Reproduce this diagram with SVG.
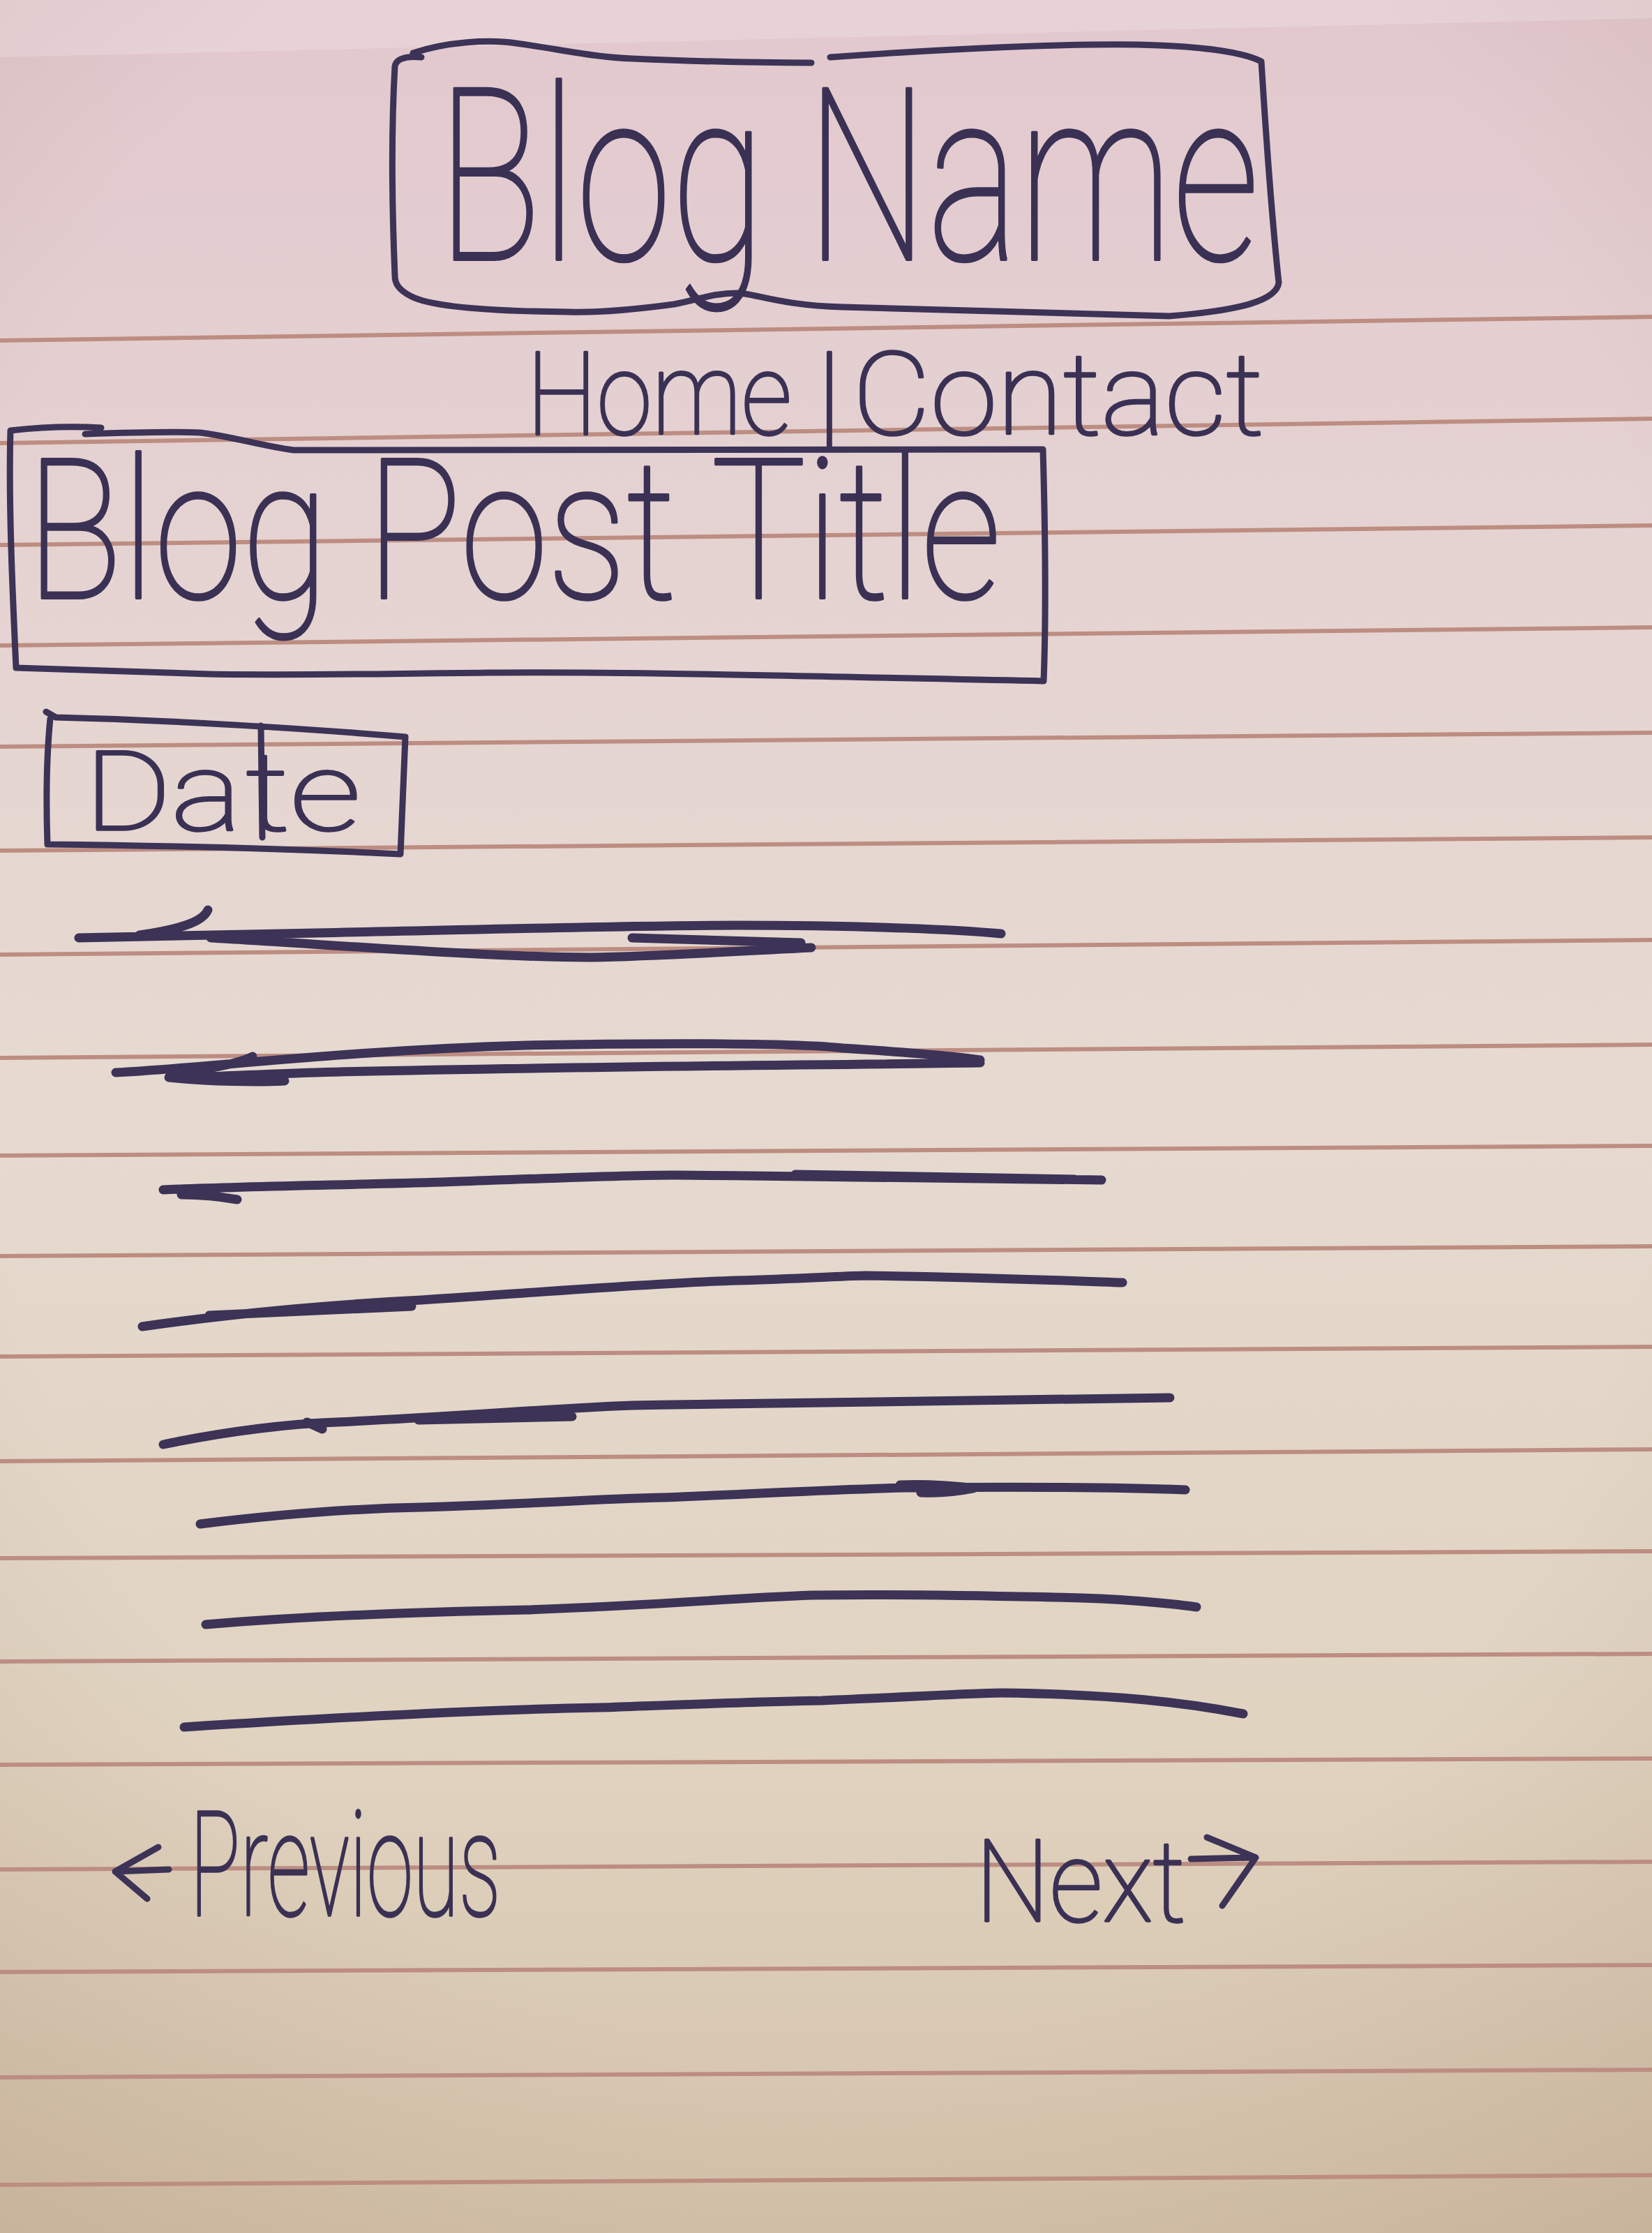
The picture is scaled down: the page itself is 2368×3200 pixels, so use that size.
<svg xmlns="http://www.w3.org/2000/svg" width="2368" height="3200" viewBox="0 0 2368 3200">
  <defs>
    <linearGradient id="paper" x1="0" y1="0" x2="0" y2="1">
      <stop offset="0" stop-color="#e2c8ce"/>
      <stop offset="0.25" stop-color="#e5d3d2"/>
      <stop offset="0.5" stop-color="#e6dad0"/>
      <stop offset="0.78" stop-color="#e0d3c0"/>
      <stop offset="1" stop-color="#d4c2aa"/>
    </linearGradient>
    <radialGradient id="shade" cx="0.5" cy="0.4" r="0.8">
      <stop offset="0.65" stop-color="#9a7a62" stop-opacity="0"/>
      <stop offset="1" stop-color="#9a7a62" stop-opacity="0.22"/>
    </radialGradient>
    <style>
      .rule { stroke: #bd8d82; stroke-width: 6; fill: none; }
      .ink { stroke: #3c3356; fill: none; stroke-linecap: round; stroke-linejoin: round; }
      .box { stroke-width: 9; }
      .scribble { stroke-width: 13; }
      .hand { fill: #3a3154; stroke: #3a3154; stroke-linejoin: round; font-family: "Roboto", "Liberation Sans", sans-serif; font-weight: 100; }
    </style>
  </defs>

  <!-- paper -->
  <rect x="0" y="0" width="2368" height="3200" fill="url(#paper)"/>
  <rect x="0" y="0" width="2368" height="3200" fill="url(#shade)"/>
  <polygon points="0,0 2368,0 2368,26 0,82" fill="#ffffff" opacity="0.18"/>

  <!-- ruled lines -->
  <g id="ruled-lines" class="rule">
    <line x1="0" y1="488" x2="2368" y2="454"/>
    <line x1="0" y1="635" x2="2368" y2="600"/>
    <line x1="0" y1="781" x2="2368" y2="753"/>
    <line x1="0" y1="925" x2="2368" y2="899"/>
    <line x1="0" y1="1070" x2="2368" y2="1050"/>
    <line x1="0" y1="1219" x2="2368" y2="1200"/>
    <line x1="0" y1="1368" x2="2368" y2="1347"/>
    <line x1="0" y1="1516" x2="2368" y2="1497"/>
    <line x1="0" y1="1656" x2="2368" y2="1642"/>
    <line x1="0" y1="1800" x2="2368" y2="1786"/>
    <line x1="0" y1="1944" x2="2368" y2="1930"/>
    <line x1="0" y1="2094" x2="2368" y2="2077"/>
    <line x1="0" y1="2233" x2="2368" y2="2223"/>
    <line x1="0" y1="2381" x2="2368" y2="2370"/>
    <line x1="0" y1="2529" x2="2368" y2="2520"/>
    <line x1="0" y1="2679" x2="2368" y2="2668"/>
    <line x1="0" y1="2826" x2="2368" y2="2816"/>
    <line x1="0" y1="2977" x2="2368" y2="2966"/>
    <line x1="0" y1="3131" x2="2368" y2="3117"/>
  </g>

  <!-- header: blog name -->
  <g id="blog-name">
    <path class="ink box" d="M 592 76 C 640 60, 700 56, 740 62 C 800 70, 850 82, 906 84 C 1000 88, 1100 90, 1163 90 M 1190 82 C 1300 74, 1500 62, 1631 64 C 1720 66, 1780 74, 1808 88 C 1815 200, 1825 330, 1833 405 C 1830 430, 1780 445, 1676 453 C 1500 448, 1300 442, 1208 440 C 1120 438, 1080 420, 1057 420 C 1020 420, 1000 430, 966 436 C 900 445, 850 448, 815 447 C 700 446, 620 440, 590 425 C 570 415, 566 405, 566 395 C 562 300, 560 200, 566 95 C 568 85, 580 80, 604 82"/>
    <text class="hand" x="627" y="372" font-size="345" stroke-width="4" textLength="1178" lengthAdjust="spacingAndGlyphs">Blog Name</text>
  </g>

  <!-- navigation -->
  <g id="nav">
    <text class="hand" y="622" font-size="166" stroke-width="3.5"><tspan x="755" textLength="380" lengthAdjust="spacingAndGlyphs">Home</tspan><tspan x="1172">|</tspan><tspan x="1222" textLength="590" lengthAdjust="spacingAndGlyphs">Contact</tspan></text>
  </g>

  <!-- post title -->
  <g id="post-title">
    <path class="ink box" d="M 15 617 C 60 612, 110 611, 145 613 M 122 622 C 180 620, 240 618, 287 620 C 330 625, 380 640, 421 645 C 700 645, 1100 644, 1495 644 C 1498 750, 1500 870, 1496 976 C 1200 970, 900 962, 700 964 C 500 966, 420 968, 300 966 C 150 962, 60 958, 23 957 C 18 850, 12 720, 15 617"/>
    <text class="hand" x="38" y="857" font-size="280" stroke-width="4" textLength="1397" lengthAdjust="spacingAndGlyphs">Blog Post Title</text>
  </g>

  <!-- date -->
  <g id="date">
    <path class="ink box" d="M 66 1020 L 80 1028 C 250 1032, 450 1045, 581 1056 C 578 1120, 576 1180, 574 1224 C 450 1218, 250 1212, 68 1210 C 66 1150, 67 1080, 72 1030 M 374 1040 L 376 1200"/>
    <text class="hand" y="1189" font-size="158" stroke-width="3.5"><tspan x="121" textLength="225" lengthAdjust="spacingAndGlyphs">Da</tspan><tspan x="352" textLength="165" lengthAdjust="spacingAndGlyphs">te</tspan></text>
  </g>

  <!-- body copy placeholder strokes -->
  <g id="body-lines" class="ink scribble">
    <path d="M 113 1344 C 200 1342, 300 1340, 453 1337 C 700 1332, 900 1326, 1057 1326 C 1250 1326, 1380 1333, 1435 1338 M 302 1344 C 450 1352, 700 1372, 846 1372 C 950 1370, 1080 1362, 1163 1358 M 906 1344 L 1148 1351 M 298 1304 C 292 1318, 270 1330, 200 1340"/>
    <path d="M 166 1537 C 300 1530, 500 1505, 755 1498 C 950 1494, 1150 1495, 1208 1502 C 1300 1508, 1380 1515, 1405 1519 M 1405 1523 C 1100 1527, 700 1530, 453 1537 C 350 1540, 280 1545, 242 1544 C 300 1550, 370 1551, 408 1549 M 362 1514 C 340 1525, 300 1532, 250 1538"/>
    <path d="M 234 1705 C 350 1700, 500 1698, 634 1694 C 800 1688, 900 1684, 967 1684 C 1200 1686, 1450 1690, 1579 1691 M 1140 1683 L 1540 1690 M 260 1712 Q 300 1712 340 1719"/>
    <path d="M 204 1901 C 350 1880, 500 1868, 604 1863 C 800 1850, 950 1838, 1057 1835 C 1150 1832, 1200 1829, 1239 1828 C 1400 1830, 1550 1836, 1609 1838 M 300 1885 L 590 1872"/>
    <path d="M 234 2070 C 330 2050, 420 2040, 483 2038 C 650 2030, 800 2018, 906 2014 C 1200 2008, 1500 2004, 1677 2003 M 600 2035 L 820 2030 M 440 2038 L 462 2048"/>
    <path d="M 287 2184 C 400 2170, 500 2162, 604 2160 C 750 2156, 850 2148, 952 2146 C 1100 2140, 1200 2134, 1299 2132 C 1500 2130, 1620 2132, 1699 2135 M 1290 2128 C 1330 2126, 1380 2130, 1395 2133 C 1370 2138, 1340 2140, 1320 2139"/>
    <path d="M 295 2328 C 450 2315, 600 2310, 755 2307 C 950 2300, 1050 2290, 1163 2286 C 1300 2284, 1420 2287, 1511 2289 C 1600 2290, 1680 2298, 1715 2303"/>
    <path d="M 264 2475 C 500 2460, 700 2450, 861 2447 C 1000 2442, 1100 2438, 1178 2437 C 1300 2432, 1400 2426, 1435 2426 C 1600 2428, 1700 2440, 1782 2456"/>
  </g>

  <!-- pager -->
  <g id="pager-previous">
    <path class="ink" stroke-width="9" d="M 227 2647 L 165 2682 L 211 2721 M 166 2682 L 242 2679"/>
    <text class="hand" x="272" y="2745" font-size="210" stroke-width="3.5" textLength="446" lengthAdjust="spacingAndGlyphs">Previous</text>
  </g>
  <g id="pager-next">
    <text class="hand" x="1398" y="2753" font-size="163" stroke-width="3.5" textLength="302" lengthAdjust="spacingAndGlyphs">Next</text>
    <path class="ink" stroke-width="9" d="M 1707 2664 L 1795 2662 M 1730 2633 L 1800 2662 L 1752 2731"/>
  </g>
</svg>
